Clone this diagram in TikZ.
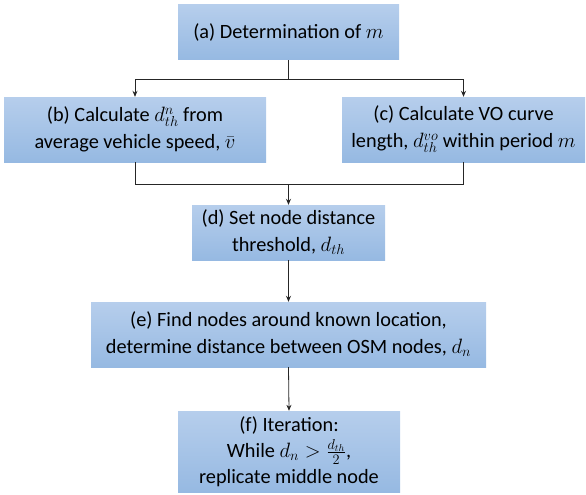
\documentclass[tikz,border=0pt]{standalone}
\usepackage{fontspec}
\setmainfont{Carlito}
\usetikzlibrary{arrows.meta}
\tikzset{
  box/.style={rectangle, inner sep=2pt, align=center, top color=boxtop, bottom color=boxbot,
    font=\fontsize{20.3}{27}\selectfont, text=black},
  conn/.style={draw=black!85, line width=0.8pt},
  arr/.style={conn, -{Stealth[length=6pt,width=5pt]}}
}
\definecolor{boxtop}{RGB}{182,206,236}
\definecolor{boxbot}{RGB}{150,185,226}
\begin{document}
\begin{tikzpicture}[x=1pt,y=1pt]
\useasboundingbox (0,0) rectangle (586,-495);
\node[box, minimum width=221pt, minimum height=55pt] (a) at (288.5,-32.5) {(a) Determination of $m$};
\node[box, minimum width=262pt, minimum height=65pt] (b) at (135,-129.5) {(b) Calculate $d_{th}^{n}$ from\\average vehicle speed, $\bar{v}$};
\node[box, minimum width=243pt, minimum height=65pt] (c) at (463.5,-129.5) {(c) Calculate VO curve\\length, $d_{th}^{vo}$ within period $m$};
\node[box, minimum width=193pt, minimum height=55pt] (d) at (288.5,-232.5) {(d) Set node distance\\threshold, $d_{th}$};
\node[box, minimum width=395pt, minimum height=65pt] (e) at (288.5,-334.5) {(e) Find nodes around known location,\\determine distance between OSM nodes, $d_n$};
\node[box, minimum width=222pt, minimum height=81pt, font=\fontsize{20.3}{26}\selectfont] (f) at (289,-451.5) {(f) Iteration:\\While $d_n > \frac{d_{th}}{2}$,\\replicate middle node};
\coordinate (split) at (288.5,-79);
\coordinate (merge) at (288.5,-184);
\draw[conn] (a.south) -- (split);
\draw[arr] (split) -| (b.north);
\draw[arr] (split) -| (c.north);
\draw[conn] (b.south) |- (merge);
\draw[conn] (c.south) |- (merge);
\draw[arr] (merge) -- (d.north);
\draw[arr] (d.south) -- (e.north);
\draw[arr] (e.south) -- (f.north);
\end{tikzpicture}
\end{document}
